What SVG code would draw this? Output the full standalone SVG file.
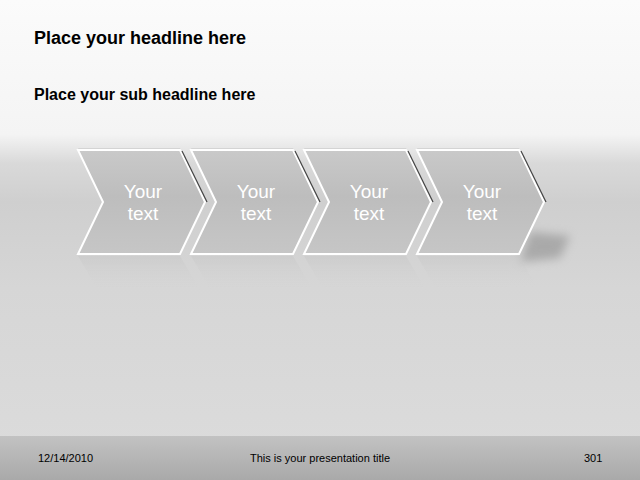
<svg xmlns="http://www.w3.org/2000/svg" width="640" height="480" viewBox="0 0 640 480">
<defs>
<linearGradient id="bg" x1="0" y1="0" x2="0" y2="1">
<stop offset="0" stop-color="#fbfbfb"/>
<stop offset="0.28" stop-color="#f4f4f4"/>
<stop offset="0.34" stop-color="#d9d9d9"/>
<stop offset="0.42" stop-color="#cfcfcf"/>
<stop offset="0.6" stop-color="#d6d6d6"/>
<stop offset="1" stop-color="#dcdcdc"/>
</linearGradient>
<linearGradient id="foot" x1="0" y1="0" x2="0" y2="1">
<stop offset="0" stop-color="#c2c2c2"/>
<stop offset="1" stop-color="#a9a9a9"/>
</linearGradient>
<linearGradient id="chev" x1="0" y1="0" x2="0" y2="1">
<stop offset="0" stop-color="#c9c9c9"/>
<stop offset="0.45" stop-color="#bdbdbd"/>
<stop offset="1" stop-color="#c6c6c6"/>
</linearGradient>
<linearGradient id="refl" x1="0" y1="0" x2="0" y2="1">
<stop offset="0" stop-color="#c4c4c4" stop-opacity="0.6"/>
<stop offset="1" stop-color="#d6d6d6" stop-opacity="0"/>
</linearGradient>
<filter id="blur" x="-20%" y="-50%" width="140%" height="200%"><feGaussianBlur stdDeviation="5"/></filter>
<path id="shape" d="M0,0 H102 L127,52 L102,104 H0 L25,52 Z"/>
</defs>
<style>
.t{font-family:"Liberation Sans",Arial,sans-serif;}
.h{font-weight:bold;fill:#000;}
.lbl{font-size:19px;fill:#fff;text-anchor:middle;}
.ft{font-size:11px;fill:#000;}
.ch{fill:url(#chev);stroke:#fff;stroke-width:2;}
.top{fill:#d4d4d4;}
.edge{fill:none;stroke:#444;stroke-width:1.2;}
</style>
<rect width="640" height="480" fill="url(#bg)"/>
<rect y="436" width="640" height="44" fill="url(#foot)"/>
<text class="t h" x="34" y="44" font-size="18">Place your headline here</text>
<text class="t h" x="34" y="100" font-size="16">Place your sub headline here</text>
<!-- floor shadow -->
<path d="M530,232 L570,236 L560,258 L520,262 Z" fill="#888" opacity="0.55" filter="url(#blur)"/>
<!-- reflections -->
<g opacity="0.7">
<path d="M78,256 H180 L200,290 H98 Z" fill="url(#refl)"/>
<path d="M191,256 H293 L313,290 H211 Z" fill="url(#refl)"/>
<path d="M304,256 H406 L426,290 H324 Z" fill="url(#refl)"/>
<path d="M417,256 H519 L539,290 H437 Z" fill="url(#refl)"/>
</g>
<g id="connectors"></g>
<g id="n1" transform="translate(78,150)">
<path class="top" d="M0,-2 H102 L104,2 H2 Z"/>
<use href="#shape" class="ch"/>
<path class="edge" d="M104,1 L129,52"/>
<text class="t lbl" x="65" y="48">Your</text>
<text class="t lbl" x="65" y="70">text</text>
</g>
<g id="n2" transform="translate(191,150)">
<path class="top" d="M0,-2 H102 L104,2 H2 Z"/>
<use href="#shape" class="ch"/>
<path class="edge" d="M104,1 L129,52"/>
<text class="t lbl" x="65" y="48">Your</text>
<text class="t lbl" x="65" y="70">text</text>
</g>
<g id="n3" transform="translate(304,150)">
<path class="top" d="M0,-2 H102 L104,2 H2 Z"/>
<use href="#shape" class="ch"/>
<path class="edge" d="M104,1 L129,52"/>
<text class="t lbl" x="65" y="48">Your</text>
<text class="t lbl" x="65" y="70">text</text>
</g>
<g id="n4" transform="translate(417,150)">
<path class="top" d="M0,-2 H102 L104,2 H2 Z"/>
<use href="#shape" class="ch"/>
<path class="edge" d="M104,1 L129,52"/>
<text class="t lbl" x="65" y="48">Your</text>
<text class="t lbl" x="65" y="70">text</text>
</g>
<text class="t ft" x="38" y="462">12/14/2010</text>
<text class="t ft" x="320" y="462" text-anchor="middle">This is your presentation title</text>
<text class="t ft" x="584" y="462">301</text>
</svg>
